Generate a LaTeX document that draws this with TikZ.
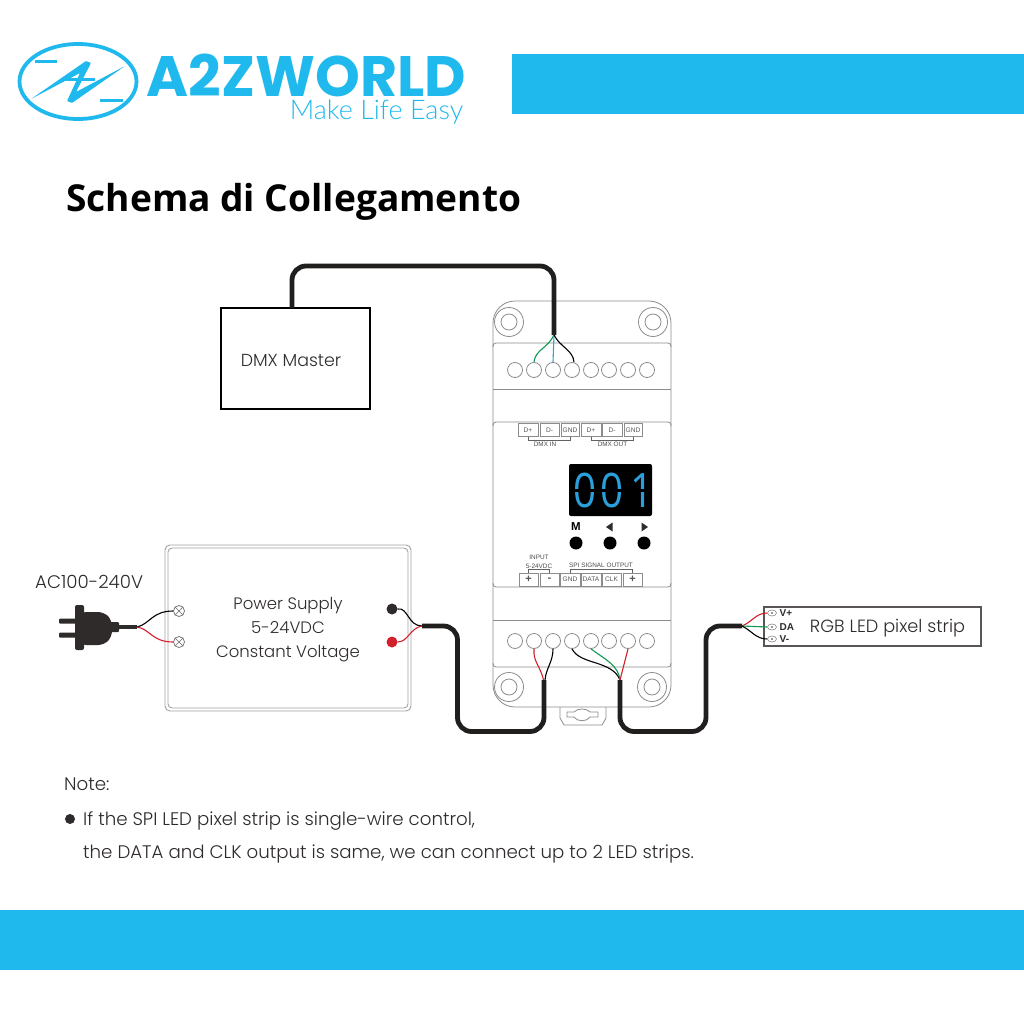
\documentclass[tikz,border=0pt]{standalone}
\usepackage{fontspec}
\usetikzlibrary{shapes.geometric}
\setmainfont{Poppins}[UprightFont=* Light]
\newfontfamily\titlefont{Open Sans}
\newfontfamily\boldlogo{Poppins}[UprightFont=* Bold]
\newfontfamily\labelfont{Liberation Sans}
\newfontfamily\litefont{Lato}[UprightFont=* Light]
\definecolor{brand}{HTML}{20B9ED}
\definecolor{devline}{HTML}{8C8C8C}
\definecolor{ink}{HTML}{2F2B2B}
\definecolor{wgreen}{HTML}{0E9A55}
\definecolor{wblue}{HTML}{2AA5D8}
\definecolor{wred}{HTML}{D3202C}
\definecolor{lcd}{HTML}{2B9FDB}
\tikzset{
  band/.style={fill=brand,draw=none},
  dev/.style={draw=devline,line width=0.8pt},
  term/.style={circle,draw=devline,line width=0.8pt,minimum size=15pt,inner sep=0pt,fill=white},
  screwo/.style={circle,draw=devline,line width=0.8pt,minimum size=29pt,inner sep=0pt},
  screwi/.style={circle,draw=devline,line width=0.8pt,minimum size=16pt,inner sep=0pt},
  lab/.style={draw=devline,line width=0.7pt,fill=white,inner sep=0pt,font=\labelfont\fontsize{6.6}{7}\selectfont,text=ink!80},
  capt/.style={inner sep=0pt,font=\labelfont\fontsize{6.4}{7}\selectfont,text=ink!85},
  bracket/.style={draw=devline!70!black,line width=0.7pt},
  cable/.style={draw=ink!70!black,line width=4.8pt,rounded corners=14pt},
  wire/.style={line width=1.1pt},
  txt/.style={inner sep=0pt,anchor=base,text=ink,font=\fontsize{16.5}{20}\selectfont},
  notetxt/.style={inner sep=0pt,anchor=base west,text=ink,font=\fontsize{18.2}{20}\selectfont},
  btn/.style={circle,fill=black,minimum size=13pt,inner sep=0pt},
}
\newcommand{\lbox}[5]{\node[lab,minimum width=#3pt,minimum height=13pt] (#1) at (#2,#4) {#5};}
\begin{document}
\begin{tikzpicture}[x=1pt,y=-1pt]
\useasboundingbox (0,0) rectangle (1024,1024);
\fill[white] (0,0) rectangle (1024,1024);
% bands
\fill[band] (512,54) rectangle (1024,114);
\fill[band] (0,910) rectangle (1024,970);
% logo
\draw[brand,line width=3.8pt] (78,81.5) ellipse [x radius=58.5,y radius=37.5];
\fill[brand,rounded corners=0.8pt] (31,99) -- (86,61) -- (91,63) -- (76,92) -- (125,66) -- (72,103) -- (67,101) -- (80,73) -- cycle;
\draw[brand,line width=3pt] (35,62) -- (57,62);
\draw[brand,line width=3pt] (65,80) -- (95,80);
\draw[brand,line width=3pt] (100,101) -- (123,101);
\node[inner sep=0pt,anchor=base,text=brand] (logoname) at (306.5,96.5) {\boldlogo\fontsize{57}{60}\selectfont A2ZWORLD};
\node[inner sep=0pt,anchor=base,text=brand] (logotag) at (376.5,120) {\litefont\fontsize{27}{28}\selectfont Make Life Easy};
% title
\node[inner sep=0pt,anchor=base west] (title) at (66,211.5) {\titlefont\bfseries\fontsize{37.1}{40}\selectfont Schema di Collegamento};
% DMX master
\node[draw=black,line width=1.8pt,minimum width=149pt,minimum height=101pt,inner sep=0pt] (dmx) at (295.5,358.5) {};
\node[txt,font=\fontsize{17.4}{20}\selectfont] (dmxtxt) at (291,366) {DMX Master};
% device
\draw[dev,rounded corners=22pt] (493,301) rectangle (671,707);
\draw[dev,rounded corners=3pt] (493,347) -- (493,343) -- (671,343) -- (671,347);
\draw[dev] (493,389) -- (671,389);
\draw[dev,rounded corners=3pt] (493,426) -- (493,422) -- (671,422) -- (671,426);
\draw[dev,rounded corners=3pt] (493,583) -- (493,587) -- (671,587) -- (671,583);
\draw[dev] (493,620) -- (671,620);
\draw[dev,rounded corners=3pt] (493,663) -- (493,667) -- (671,667) -- (671,663);
\foreach \n/\x/\y in {a/509/322,b/653/322,c/509/687,d/652/687}{
  \node[screwo] (so\n) at (\x,\y) {};
  \node[screwi] (si\n) at (\x,\y) {};
}
\foreach \i/\x in {1/515,2/534,3/553,4/572,5/591,6/609,7/628,8/647}{
  \node[term] (ta\i) at (\x,370) {};
  \node[term] (tb\i) at (\x,641) {};
}
% clip
\draw[dev] (560,707) -- (560,718) -- (564,725) -- (602,725) -- (606,718) -- (606,707);
\draw[dev] (567,712) -- (574,712) .. controls (577,708) and (587,708) .. (590,712) -- (598,712) -- (598,717) -- (590,717) .. controls (587,722) and (577,722) .. (574,717) -- (567,717) -- cycle;
% DMX labels
\lbox{ld1}{528}{20}{430}{D+}
\lbox{ld2}{549.5}{19}{430}{D-}
\lbox{ld3}{570}{18}{430}{GND}
\lbox{ld4}{591}{20}{430}{D+}
\lbox{ld5}{612}{20}{430}{D-}
\lbox{ld6}{633}{18}{430}{GND}
\draw[bracket] (ld1.south) -- ++(0,3) -| (ld3.south);
\draw[bracket] (ld4.south) -- ++(0,3) -| (ld6.south);
\node[capt] (dmxin) at (545,444.5) {DMX IN};
\node[capt] (dmxout) at (612.5,444.5) {DMX OUT};
% display
\fill[black,rounded corners=2pt] (569,464) rectangle (652,516);
\node[inner sep=0pt,text=lcd,anchor=base west] (lcdtext) at (573,507) {\scalebox{0.85}[1]{\titlefont\fontsize{47.5}{48}\selectfont 0\kern5pt0\kern8pt1}};
\fill[black] (570,489) rectangle (651,491.5);
% buttons
\node[inner sep=0pt] (mlab) at (576,527) {\labelfont\bfseries\fontsize{11.5}{12}\selectfont M};
\fill[ink] (606,527) -- (612.5,522.5) -- (612.5,531.5) -- cycle;
\fill[ink] (648,527) -- (641.5,522.5) -- (641.5,531.5) -- cycle;
\node[btn] (bm) at (576,543) {};
\node[btn] (bl) at (610,543) {};
\node[btn] (br) at (644,543) {};
% lower labels
\lbox{lp1}{528.5}{19}{579.5}{\fontsize{11}{11}\selectfont\bfseries +}
\lbox{lp2}{549.5}{19}{579.5}{\fontsize{11}{11}\selectfont\bfseries -}
\lbox{ls1}{570}{20}{579.5}{GND}
\lbox{ls2}{591}{20}{579.5}{DATA}
\lbox{ls3}{611.5}{19}{579.5}{CLK}
\lbox{ls4}{632.5}{19}{579.5}{\fontsize{11}{11}\selectfont\bfseries +}
\draw[bracket] (lp1.north) -- ++(0,-3) -| (lp2.north);
\draw[bracket] (ls1.north) -- ++(0,-3) -| (ls4.north);
\node[capt] (inp) at (539,557.5) {INPUT};
\node[capt] (inv) at (539,566) {5-24VDC};
\node[capt] (spi) at (601,565.5) {SPI SIGNAL OUTPUT};
% power supply
\draw[draw=devline!80,line width=0.9pt,rounded corners=5pt] (165,545) rectangle (411,711);
\draw[draw=devline!80,line width=0.9pt,rounded corners=4pt] (168,548) rectangle (408,708);
\node[txt] (ps1) at (288,609) {Power Supply};
\node[txt] (ps2) at (288,633) {5-24VDC};
\node[txt] (ps3) at (288,657) {Constant Voltage};
\foreach \n/\y in {u/611,v/642}{
  \node[circle,draw=ink!70,line width=0.7pt,minimum size=11pt,inner sep=0pt] (sc\n) at (179,\y) {};
  \draw[ink!70,line width=0.6pt] (sc\n.north west) -- (sc\n.south east) (sc\n.north east) -- (sc\n.south west);
}
\node[circle,fill=ink,minimum size=11pt,inner sep=0pt] (pk) at (392,609) {};
\node[circle,fill=wred,minimum size=11pt,inner sep=0pt] (pr) at (392,642) {};
% plug
\node[notetxt] (ac) at (35,588) {AC100-240V};
\fill[ink,rounded corners=2pt] (75,605) rectangle (84,650);
\fill[ink,rounded corners=6pt] (80,612) -- (104,612) -- (112,620) -- (112,637) -- (104,645) -- (80,645) -- cycle;
\fill[ink,rounded corners=1pt] (110,622) rectangle (119,632);
\fill[ink,rounded corners=1pt] (59,618.5) rectangle (76,623.5);
\fill[ink,rounded corners=1pt] (59,632.5) rectangle (76,637.5);
\coordinate (plugbase) at (118,627);
\coordinate (plugj) at (137,627);
\draw[ink,line width=4.4pt] (plugbase) -- (plugj);
\draw[wire,black] (plugj) .. controls (150,624) and (152,611) .. (scu.west);
\draw[wire,wred] (plugj) .. controls (150,629) and (152,642) .. (scv.west);
% wires from supply
\coordinate (psj) at (422,626);
\draw[wire,black] (pk.east) .. controls (408,607) and (408,626) .. (psj);
\draw[wire,wred] (pr.east) .. controls (408,642) and (410,628) .. (psj);
% cables
\coordinate (cabA) at (544,680);
\coordinate (cabB) at (620,680);
\coordinate (stripj) at (742,626);
\coordinate (dmxport) at (292,308);
\coordinate (topj) at (554,335);
\draw[cable] (dmxport) -- (292,266) -- (554,266) -- (topj);
\draw[cable] (psj) -- (457.5,626) -- (457.5,731.5) -- (544,731.5) -- (cabA);
\draw[cable] (cabB) -- (620,731.5) -- (706,731.5) -- (706,626) -- (stripj);
% device wires
\draw[wire,wgreen] (topj) .. controls (548,348) and (535,350) .. (534,362);
\draw[wire,wblue] (topj) -- (ta3.north);
\draw[wire,black] (topj) .. controls (560,347) and (573,350) .. (574,362);
\draw[wire,wred] (543.5,680) .. controls (540,665) and (533,662) .. (tb2.south);
\draw[wire,black] (545,680) .. controls (546,668) and (553,662) .. (tb3.south);
\draw[wire,black] (tb4.south) .. controls (580,665) and (612,660) .. (cabB);
\draw[wire,wgreen] (tb5.south) .. controls (606,660) and (618,665) .. (cabB);
\draw[wire,wred] (tb7.south) -- (cabB);
% strip
\node[draw=ink!80,line width=1.2pt,minimum width=217pt,minimum height=39pt,inner sep=0pt] (strip) at (872.5,626.5) {};
\node[txt,font=\fontsize{17.7}{20}\selectfont] (striptxt) at (887.5,632) {RGB LED pixel strip};
\foreach \n/\y/\t in {p/613/V+,q/627/DA,r/639/V-}{
  \node[ellipse,draw=devline,line width=0.6pt,minimum width=9pt,minimum height=6pt,inner sep=0pt] (pad\n) at (772,\y) {};
  \fill[ink] (pad\n) circle[radius=0.9];
  \node[inner sep=0pt,anchor=west,text=ink,font=\labelfont\bfseries\fontsize{10}{10}\selectfont] (padl\n) at (779.5,\y) {\t};
}
\draw[wire,wred] (stripj) .. controls (752,622) and (756,613) .. (padp.west);
\draw[wire,wgreen] (stripj) -- (padq.west);
\draw[wire,black] (stripj) .. controls (752,631) and (756,639) .. (padr.west);
% note
\node[notetxt] (note) at (64,790) {Note:};
\node[circle,fill=ink,minimum size=10pt,inner sep=0pt] (bullet) at (70,819) {};
\node[notetxt] (n1) at (83,825.5) {If the SPI LED pixel strip is single-wire control,};
\node[notetxt] (n2) at (83,858.5) {the DATA and CLK output is same, we can connect up to 2 LED strips.};
\end{tikzpicture}
\end{document}
